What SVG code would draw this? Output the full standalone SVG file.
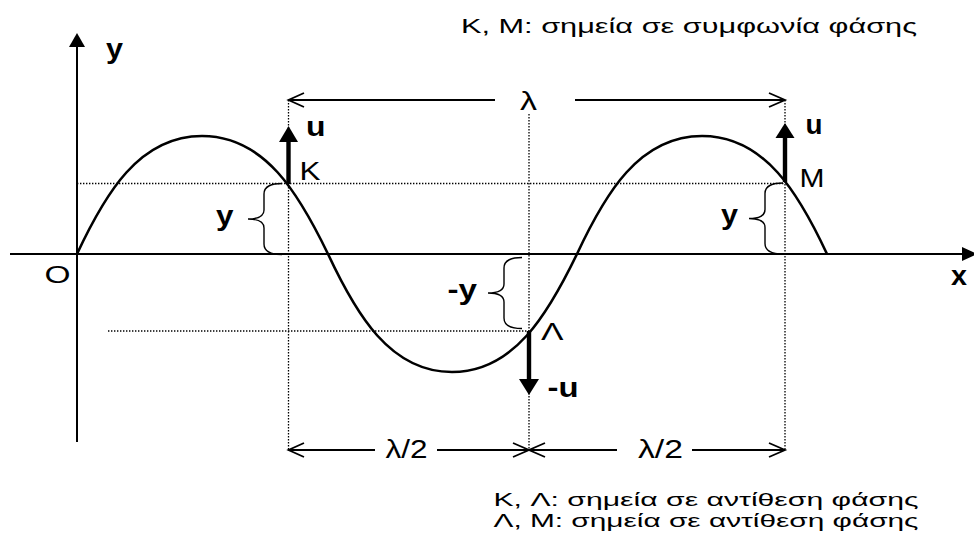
<svg xmlns="http://www.w3.org/2000/svg" width="974" height="538" viewBox="0 0 974 538">
<style>
.ln{stroke:#000;fill:none;stroke-width:2}
.dot{stroke:#000;fill:none;stroke-width:1.3;stroke-dasharray:1.4 1.6}
.wave{stroke:#000;fill:none;stroke-width:2.6}
.vel{stroke:#000;fill:none;stroke-width:4.4}
.head{fill:#000;stroke:none}
.brace{stroke:#000;fill:none;stroke-width:1.4}
.open{stroke:#000;fill:none;stroke-width:1.8}
.r{font-family:"Liberation Sans",Arial,sans-serif;fill:#000}
.b{font-family:"Liberation Sans",Arial,sans-serif;font-weight:bold;fill:#000;font-size:27px}
</style>
<defs>
<path id="br" class="brace" d="M34,-35.5 C24,-35.5 16,-33 16,-25 L16,-9 C16,-3 10,0 0,0 C10,0 16,3 16,9 L16,25 C16,33 24,35.5 34,35.5"/>
</defs>
<rect width="974" height="538" fill="#fff"/>

<g id="axes">
<line class="ln" x1="77" y1="442" x2="77" y2="44"/>
<polygon class="head" points="69,47 85,47 77,33"/>
<line class="ln" x1="10" y1="254" x2="964" y2="254"/>
<polygon class="head" points="962,247 962,261 977,254"/>
<text class="b" x="106" y="57.5" textLength="17" lengthAdjust="spacingAndGlyphs">y</text>
<text class="b" x="951" y="285" textLength="16" lengthAdjust="spacingAndGlyphs">x</text>
<text class="r" font-size="23" x="44.5" y="283" textLength="26" lengthAdjust="spacingAndGlyphs">O</text>
</g>

<g id="guides">
<line class="dot" x1="77" y1="183.5" x2="785" y2="183.5"/>
<line class="dot" x1="108" y1="331" x2="529" y2="331"/>
<line class="dot" x1="288.5" y1="100" x2="288.5" y2="450"/>
<line class="dot" x1="529" y1="114" x2="529" y2="450"/>
<line class="dot" x1="785" y1="100" x2="785" y2="450"/>
</g>

<g id="wave">
<path class="wave" d="M77,254 C105,194 139,136 202,136 C265,136 299,194 328,254 C356,314 390,372 452,372 C514,372 548,314 577,254 C605,194 639,136 702,136 C765,136 799,194 827,254"/>
</g>

<g id="connectors">
<line class="open" x1="288.5" y1="100" x2="495" y2="100"/>
<line class="open" x1="575" y1="100" x2="785" y2="100"/>
<polyline class="open" points="304,93 288.5,100 304,107"/>
<polyline class="open" points="769,93 785,100 769,107"/>
<text class="r" font-size="25" x="520" y="110" textLength="17" lengthAdjust="spacingAndGlyphs">λ</text>
<line class="open" x1="288.5" y1="450" x2="375" y2="450"/>
<line class="open" x1="437" y1="450" x2="529" y2="450"/>
<line class="open" x1="529" y1="450" x2="617" y2="450"/>
<line class="open" x1="692" y1="450" x2="785" y2="450"/>
<polyline class="open" points="304,443 288.5,450 304,457"/>
<polyline class="open" points="513,443 529,450 513,457"/>
<polyline class="open" points="545,443 529,450 545,457"/>
<polyline class="open" points="769,443 785,450 769,457"/>
<text class="r" font-size="25" x="385.5" y="458.3" textLength="42" lengthAdjust="spacingAndGlyphs">λ/2</text>
<text class="r" font-size="25" x="638" y="458.3" textLength="45" lengthAdjust="spacingAndGlyphs">λ/2</text>
</g>

<g id="point-K">
<line class="vel" x1="288.5" y1="184" x2="288.5" y2="140"/>
<polygon class="head" points="279,142 298,142 288.5,126"/>
<text class="b" x="306" y="135.5" textLength="19.5" lengthAdjust="spacingAndGlyphs">u</text>
<text class="r" font-size="25" x="299.5" y="180" textLength="21" lengthAdjust="spacingAndGlyphs">K</text>
<use href="#br" transform="translate(248,219)"/>
<text class="b" x="216" y="224.5" textLength="17.5" lengthAdjust="spacingAndGlyphs">y</text>
</g>

<g id="point-L">
<line class="vel" x1="529" y1="331" x2="529" y2="381"/>
<polygon class="head" points="519,379 539,379 529,395"/>
<text class="b" x="547.5" y="396.5" textLength="31" lengthAdjust="spacingAndGlyphs">-u</text>
<text class="r" font-size="24" x="541" y="340" textLength="22.5" lengthAdjust="spacingAndGlyphs">Λ</text>
<use href="#br" transform="translate(488,293)"/>
<text class="b" x="447.5" y="299" textLength="29.5" lengthAdjust="spacingAndGlyphs">-y</text>
</g>

<g id="point-M">
<line class="vel" x1="785" y1="182" x2="785" y2="136"/>
<polygon class="head" points="775.5,138 794.5,138 785,123"/>
<text class="b" x="805.5" y="133.5" textLength="17" lengthAdjust="spacingAndGlyphs">u</text>
<text class="r" font-size="25" x="799.5" y="186.7" textLength="25" lengthAdjust="spacingAndGlyphs">M</text>
<use href="#br" transform="translate(749,218.5)"/>
<text class="b" x="721" y="223.5" textLength="17" lengthAdjust="spacingAndGlyphs">y</text>
</g>

<g id="notes">
<text class="r" font-size="21" x="461" y="33" textLength="456" lengthAdjust="spacingAndGlyphs">K, M: σημεία σε συμφωνία φάσης</text>
<text class="r" font-size="18.5" x="493.5" y="506" textLength="425" lengthAdjust="spacingAndGlyphs">K, Λ: σημεία σε αντίθεση φάσης</text>
<text class="r" font-size="18.5" x="493.5" y="527" textLength="425" lengthAdjust="spacingAndGlyphs">Λ, M: σημεία σε αντίθεση φάσης</text>
</g>
</svg>
